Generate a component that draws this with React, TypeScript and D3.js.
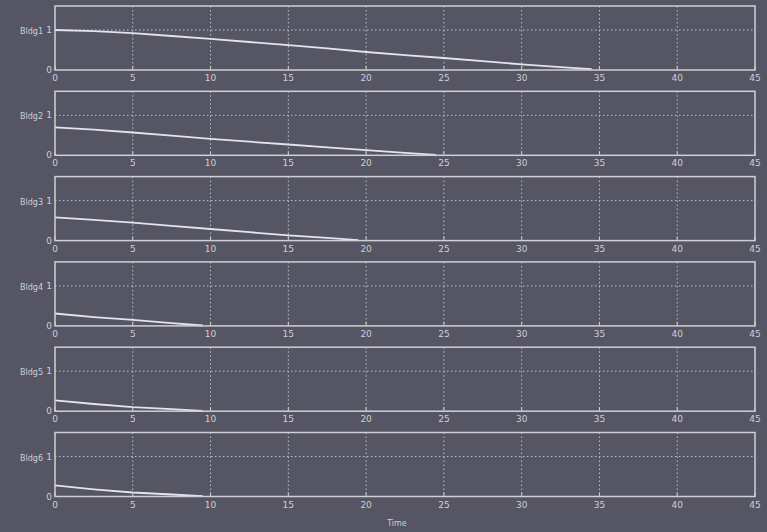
import React, { useEffect, useRef } from "react";
import * as d3 from "d3";

// building names (one per panel)
const buildings = ["Bldg1", "Bldg2", "Bldg3", "Bldg4", "Bldg5", "Bldg6"];

// sample times for each building's curve
const times1 = [0, 2.5, 5, 7.5, 10, 12.5, 15, 17.5, 20, 22.5, 25, 27.5, 30, 32.5, 34.5];
const times2 = [0, 2.5, 5, 7.5, 10, 12.5, 15, 17.5, 20, 22.5, 24.5];
const times3 = [0, 2.5, 5, 7.5, 10, 12.5, 15, 17.5, 19.5];
const times4 = [0, 2.5, 5, 7.5, 9.5];
const times5 = [0, 2.5, 5, 7.5, 9.5];
const times6 = [0, 2.5, 5, 7.5, 9.5];

const values1 = [1.0, 0.97, 0.92, 0.85, 0.78, 0.7, 0.62, 0.54, 0.45, 0.37, 0.3, 0.22, 0.14, 0.07, 0.02];
const values2 = [0.7, 0.64, 0.57, 0.49, 0.41, 0.34, 0.27, 0.2, 0.13, 0.06, 0.01];
const values3 = [0.58, 0.52, 0.45, 0.37, 0.29, 0.21, 0.13, 0.07, 0.01];
const values4 = [0.31, 0.22, 0.15, 0.07, 0.01];
const values5 = [0.27, 0.18, 0.1, 0.05, 0.01];
const values6 = [0.28, 0.18, 0.1, 0.05, 0.01];

const seriesTimes = [times1, times2, times3, times4, times5, times6];
const seriesValues = [values1, values2, values3, values4, values5, values6];

const xTicks = [0, 5, 10, 15, 20, 25, 30, 35, 40, 45];
const yTicks = [0, 1];

const W = 767;
const H = 532;
const bg = "#555564";
const fg = "#cfcfd4";

const App = () => {
  const ref = useRef<SVGSVGElement>(null);

  useEffect(() => {
    const svg: any = d3.select(ref.current);
    svg.selectAll("*").remove();

    svg.append("rect").attr("width", W).attr("height", H).attr("fill", bg);

    const left = 55;
    const right = 755;
    const top0 = 6;
    const pitch = 85.3;
    const ph = 64;

    const x = d3.scaleLinear().domain([0, 45]).range([left, right]);

    buildings.forEach((name, i) => {
      const top = top0 + i * pitch;
      const y = d3.scaleLinear().domain([0, 1.6]).range([top + ph, top]);
      const g = svg.append("g");

      // vertical grid
      g.selectAll(".vg")
        .data(xTicks.slice(1, -1))
        .enter()
        .append("line")
        .attr("x1", (d: number) => x(d))
        .attr("x2", (d: number) => x(d))
        .attr("y1", top)
        .attr("y2", top + ph)
        .attr("stroke", "#b9c4c8")
        .attr("stroke-width", 1)
        .attr("stroke-dasharray", "1.5,2.5");

      // horizontal grid at 1
      g.append("line")
        .attr("x1", left)
        .attr("x2", right)
        .attr("y1", y(1))
        .attr("y2", y(1))
        .attr("stroke", "#b9c4c8")
        .attr("stroke-width", 1)
        .attr("stroke-dasharray", "1.5,2.5");

      // data line
      const pts = seriesTimes[i].map((t, k) => [t, seriesValues[i][k]] as [number, number]);
      const line = d3
        .line<[number, number]>()
        .x((d) => x(d[0]))
        .y((d) => y(d[1]));
      g.append("path")
        .attr("d", line(pts))
        .attr("fill", "none")
        .attr("stroke", "#e4e4ea")
        .attr("stroke-width", 1.8);

      // axes box
      g.append("rect")
        .attr("x", left)
        .attr("y", top)
        .attr("width", right - left)
        .attr("height", ph)
        .attr("fill", "none")
        .attr("stroke", fg)
        .attr("stroke-width", 1.5);

      // tick marks
      g.selectAll(".xt")
        .data(xTicks)
        .enter()
        .append("line")
        .attr("x1", (d: number) => x(d))
        .attr("x2", (d: number) => x(d))
        .attr("y1", top + ph)
        .attr("y2", top + ph - 4)
        .attr("stroke", fg);

      // x tick labels
      g.selectAll(".xl")
        .data(xTicks)
        .enter()
        .append("text")
        .attr("x", (d: number) => x(d))
        .attr("y", top + ph + 11)
        .attr("text-anchor", "middle")
        .attr("font-family", "DejaVu Sans, sans-serif")
        .attr("font-size", 9)
        .attr("fill", fg)
        .text((d: number) => d);

      // y tick labels
      g.selectAll(".yl")
        .data(yTicks)
        .enter()
        .append("text")
        .attr("x", left - 3)
        .attr("y", (d: number) => y(d) + 3)
        .attr("text-anchor", "end")
        .attr("font-family", "DejaVu Sans, sans-serif")
        .attr("font-size", 9)
        .attr("fill", fg)
        .text((d: number) => d);

      // y label
      g.append("text")
        .attr("x", left - 12)
        .attr("y", y(1) + 4)
        .attr("text-anchor", "end")
        .attr("font-family", "DejaVu Sans, sans-serif")
        .attr("font-size", 8)
        .attr("fill", fg)
        .text(name);
    });

    svg.append("text")
      .attr("x", 397)
      .attr("y", 526)
      .attr("text-anchor", "middle")
      .attr("font-family", "DejaVu Sans, sans-serif")
      .attr("font-size", 8)
      .attr("fill", fg)
      .text("Time");
  }, []);

  return (
    <svg
      ref={ref}
      width={W}
      height={H}
      style={{ position: "absolute", left: 0, top: 0, display: "block" }}
    />
  );
};

export default App;
